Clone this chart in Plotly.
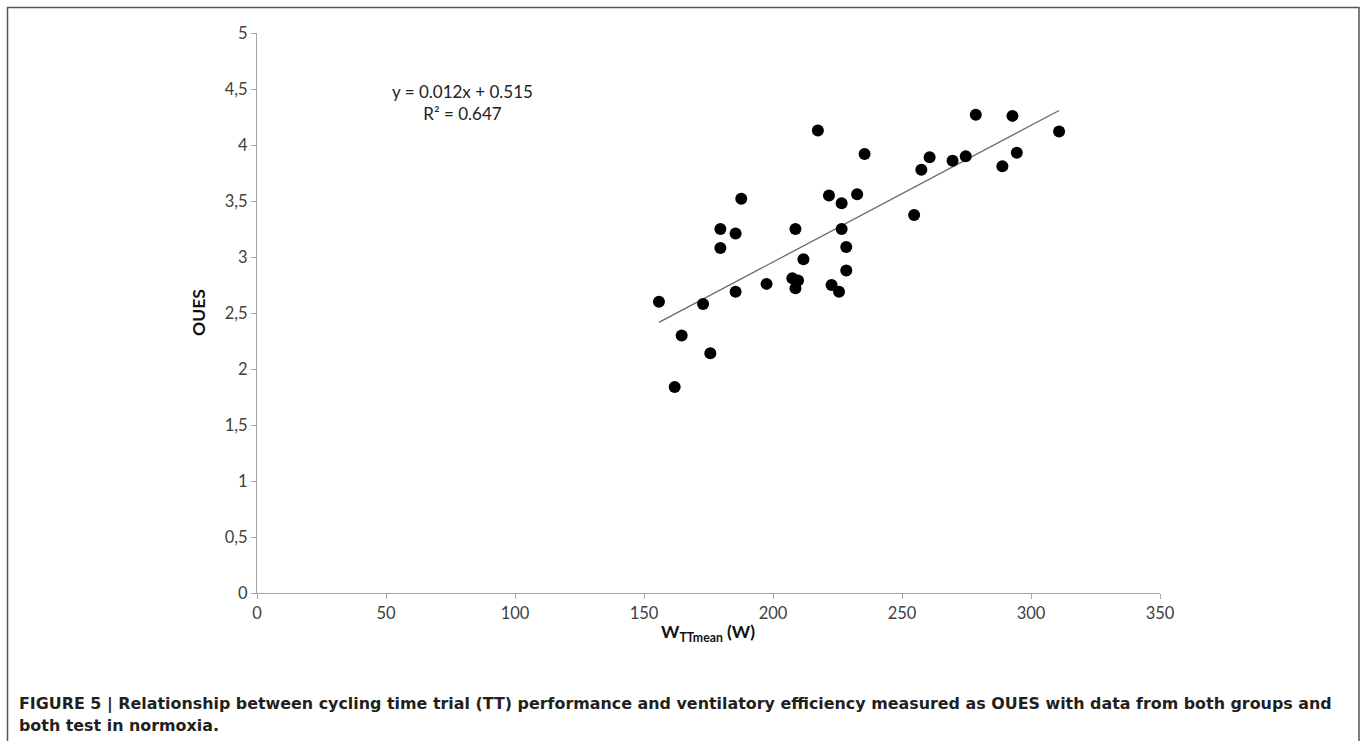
import plotly.graph_objects as go

# Data
w_ttmean = [155.8, 172.9, 185.5, 197.5, 207.5, 209.7, 208.7, 222.7, 225.6, 228.4,
            228.4, 226.6, 211.8, 208.7, 179.6, 185.5, 179.6, 187.7, 221.7, 226.6,
            232.6, 217.4, 235.5, 254.7, 257.5, 260.7, 269.6, 274.7, 278.6, 292.8,
            288.9, 294.5, 310.9, 164.6, 175.7, 161.9]
oues = [2.60, 2.58, 2.69, 2.76, 2.81, 2.79, 2.72, 2.75, 2.69, 2.88,
        3.09, 3.25, 2.98, 3.25, 3.25, 3.21, 3.08, 3.52, 3.55, 3.48,
        3.56, 4.13, 3.92, 3.375, 3.78, 3.89, 3.86, 3.90, 4.27, 4.26,
        3.81, 3.93, 4.12, 2.30, 2.14, 1.84]

trend_slope = 0.0122
trend_intercept = 0.515
trend_x = [min(w_ttmean), max(w_ttmean)]
trend_y = [trend_slope * x + trend_intercept for x in trend_x]

x_ticks = [0, 50, 100, 150, 200, 250, 300, 350]
y_ticks = [0, 0.5, 1, 1.5, 2, 2.5, 3, 3.5, 4, 4.5, 5]
y_tick_labels = ["0", "0,5", "1", "1,5", "2", "2,5", "3", "3,5", "4", "4,5", "5"]

equation_text = "y = 0.012x + 0.515<br>R² = 0.647"
x_title = "<b>W<sub>TTmean</sub> (W)</b>"
y_title = "<b>OUES</b>"
caption_line1 = ("<b>FIGURE 5 | Relationship between cycling time trial (TT) performance and ventilatory "
                 "efficiency measured as OUES with data from both groups and</b>")
caption_line2 = "<b>both test in normoxia.</b>"

W, H = 1362, 741
L, R, T, B = 257, 1160, 33, 593
pw, ph = R - L, B - T


def px(x):
    return (x - L) / pw


def py(y):
    return (B - y) / ph


fig = go.Figure()
fig.add_trace(go.Scatter(x=trend_x, y=trend_y, mode="lines",
                         line=dict(color="#6a6a6a", width=1.3), hoverinfo="skip",
                         showlegend=False))
fig.add_trace(go.Scatter(x=w_ttmean, y=oues, mode="markers",
                         marker=dict(color="black", size=12, line=dict(width=0)),
                         showlegend=False))

tick_font = dict(family="Lato, Open Sans, sans-serif", size=16.5, color="#404040")

fig.update_layout(
    width=W, height=H,
    margin=dict(l=L, r=W - R, t=T, b=H - B, pad=0),
    paper_bgcolor="white", plot_bgcolor="white",
    xaxis=dict(range=[0, 350], tickvals=x_ticks, showgrid=False, zeroline=False,
               showline=True, linecolor="#a6a6a6", linewidth=1,
               ticks="outside", ticklen=5, tickcolor="#a6a6a6",
               tickfont=tick_font, fixedrange=True),
    yaxis=dict(range=[0, 5], tickvals=y_ticks, ticktext=y_tick_labels,
               showgrid=False, zeroline=False,
               showline=True, linecolor="#a6a6a6", linewidth=1,
               ticks="outside", ticklen=5, tickcolor="#a6a6a6",
               tickfont=tick_font, fixedrange=True),
    font=dict(family="Lato, Open Sans, sans-serif", color="#222"),
)

fig.add_annotation(text=equation_text, xref="paper", yref="paper",
                   x=px(462), y=py(102), showarrow=False, align="center",
                   font=dict(family="Lato, Open Sans, sans-serif", size=17, color="#222"),
                   xanchor="center", yanchor="middle")
fig.add_annotation(text=x_title, xref="paper", yref="paper",
                   x=px(708), y=py(633), showarrow=False,
                   font=dict(family="Lato, Open Sans, sans-serif", size=17.5, color="#111"),
                   xanchor="center", yanchor="middle")
fig.add_annotation(text=y_title, xref="paper", yref="paper",
                   x=px(198), y=py(313), showarrow=False, textangle=-90,
                   font=dict(family="Lato, Open Sans, sans-serif", size=17.5, color="#111"),
                   xanchor="center", yanchor="middle")
cap_font = dict(family="DejaVu Sans, Liberation Sans, sans-serif", size=15.9, color="#231f20")
fig.add_annotation(text=caption_line1, xref="paper", yref="paper",
                   x=px(17), y=py(704), showarrow=False, align="left",
                   font=cap_font, xanchor="left", yanchor="middle")
fig.add_annotation(text=caption_line2, xref="paper", yref="paper",
                   x=px(17), y=py(725), showarrow=False, align="left",
                   font=cap_font, xanchor="left", yanchor="middle")

fig.add_shape(type="rect", xref="paper", yref="paper",
              x0=px(7.5), x1=px(1359), y0=py(7.5), y1=py(760),
              line=dict(color="#555", width=1.5), fillcolor="rgba(0,0,0,0)", layer="above")

fig.write_html("out.html", config={"displayModeBar": False},
               post_script="document.body.style.margin='0';document.body.style.overflow='hidden';")
